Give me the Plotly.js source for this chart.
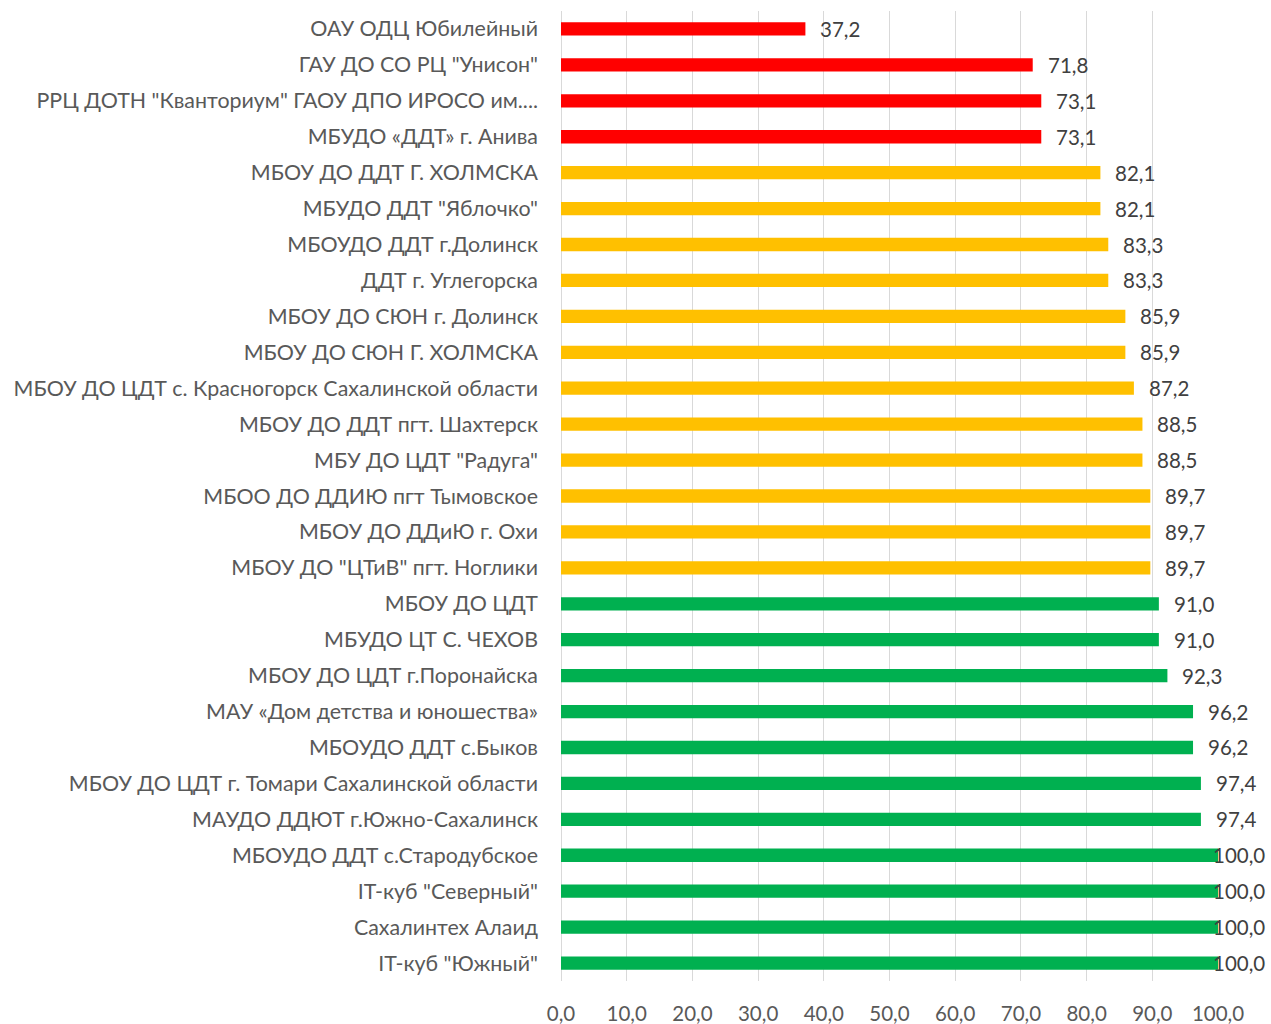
<!DOCTYPE html>
<html>
<head>
<meta charset="utf-8">
<script src="https://cdn.plot.ly/plotly-3.0.1.min.js"></script>
<style>html,body{margin:0;padding:0;background:#fff;}#chart{width:1271px;height:1024px;}</style>
</head>
<body>
<div id="chart"></div>
<script>
const categories = [
  'ОАУ ОДЦ Юбилейный',
  'ГАУ ДО СО РЦ "Унисон"',
  'РРЦ ДОТН "Кванториум" ГАОУ ДПО ИРОСО им....',
  'МБУДО «ДДТ» г. Анива',
  'МБОУ ДО ДДТ Г. ХОЛМСКА',
  'МБУДО ДДТ "Яблочко"',
  'МБОУДО ДДТ г.Долинск',
  'ДДТ г. Углегорска',
  'МБОУ ДО СЮН г. Долинск',
  'МБОУ ДО СЮН Г. ХОЛМСКА',
  'МБОУ ДО ЦДТ с. Красногорск Сахалинской области',
  'МБОУ ДО ДДТ пгт. Шахтерск',
  'МБУ ДО ЦДТ "Радуга"',
  'МБОО ДО ДДИЮ пгт Тымовское',
  'МБОУ ДО ДДиЮ г. Охи',
  'МБОУ ДО "ЦТиВ" пгт. Ноглики',
  'МБОУ ДО ЦДТ',
  'МБУДО ЦТ С. ЧЕХОВ',
  'МБОУ ДО ЦДТ г.Поронайска',
  'МАУ «Дом детства и юношества»',
  'МБОУДО ДДТ с.Быков',
  'МБОУ ДО ЦДТ г. Томари Сахалинской области',
  'МАУДО ДДЮТ г.Южно-Сахалинск',
  'МБОУДО ДДТ с.Стародубское',
  'IT-куб "Северный"',
  'Сахалинтех Алаид',
  'IT-куб "Южный"'
];
const values = [37.2, 71.8, 73.1, 73.1, 82.1, 82.1, 83.3, 83.3, 85.9, 85.9, 87.2, 88.5, 88.5, 89.7, 89.7, 89.7, 91.0, 91.0, 92.3, 96.2, 96.2, 97.4, 97.4, 100.0, 100.0, 100.0, 100.0];
const xTicks = [0, 10, 20, 30, 40, 50, 60, 70, 80, 90, 100];

const RED = '#FF0000', YELLOW = '#FFC000', GREEN = '#00B050';
const colors = values.map(v => v < 80 ? RED : (v < 90 ? YELLOW : GREEN));
const fmt = v => v.toFixed(1).replace('.', ',');
const FONT = 'Lato, Open Sans, sans-serif';
const TXT = '#595959';

const annotations = values.map((v, i) => ({
  x: v, y: categories[i], xref: 'x', yref: 'y',
  text: fmt(v), showarrow: false,
  xanchor: 'left', yanchor: 'middle',
  xshift: v >= 99.5 ? -7 : 13,
  font: {family: FONT, size: 20.5, color: '#404040'}
}));

const trace = {
  type: 'bar', orientation: 'h',
  x: values, y: categories,
  marker: {color: colors},
  hoverinfo: 'x+y'
};

const layout = {
  width: 1271, height: 1024,
  margin: {l: 561, r: 53, t: 11, b: 43},
  paper_bgcolor: '#fff', plot_bgcolor: '#fff',
  separators: ', ',
  showlegend: false,
  bargap: 0.63,
  font: {family: FONT, color: TXT},
  xaxis: {
    range: [0, 100], tickvals: xTicks, tickformat: '.1f',
    showgrid: true, gridcolor: '#D9D9D9', gridwidth: 1,
    zeroline: true, zerolinecolor: '#D9D9D9', zerolinewidth: 1,
    showline: false, ticks: '',
    ticklabelstandoff: 18,
    tickfont: {family: FONT, size: 20.5, color: TXT}
  },
  yaxis: {
    autorange: 'reversed', type: 'category',
    showgrid: false, zeroline: false, showline: false, ticks: '',
    ticklabelstandoff: 22,
    tickfont: {family: FONT, size: 21.4, color: TXT}
  },
  annotations: annotations
};

Plotly.newPlot('chart', [trace], layout, {displayModeBar: false, responsive: false});
</script>
</body>
</html>
